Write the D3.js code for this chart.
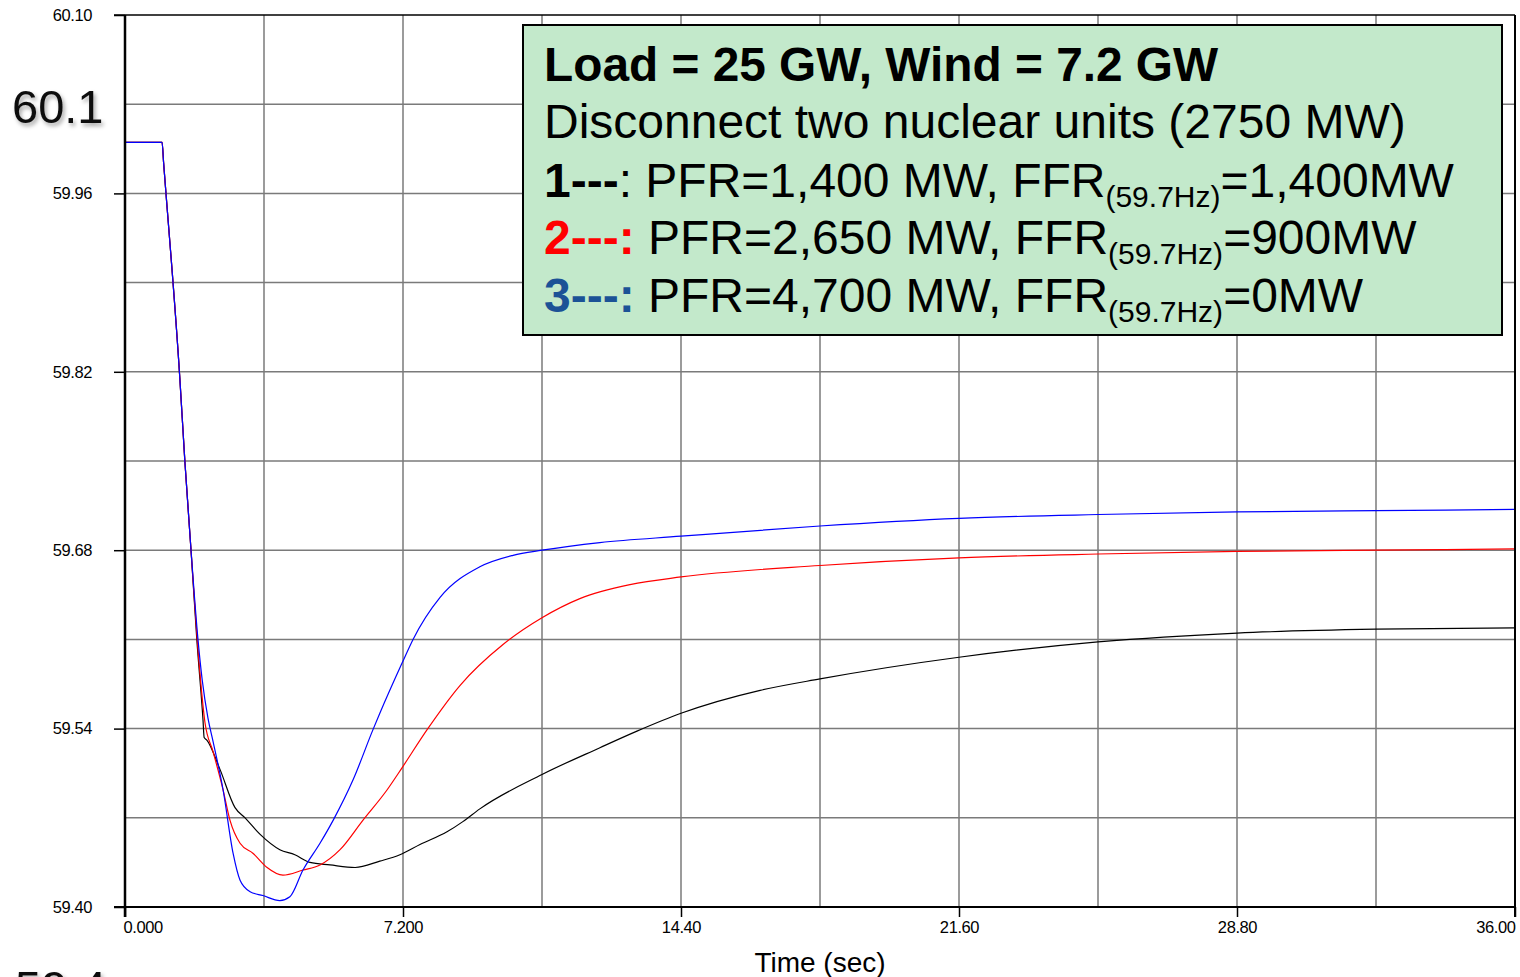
<!DOCTYPE html>
<html>
<head>
<meta charset="utf-8">
<script src="https://cdn.jsdelivr.net/npm/d3@7"></script>
<style>
  body { margin: 0; background: #fff; }
  svg { display: block; font-family: "Liberation Sans", Arial, sans-serif; }
</style>
</head>
<body>
<div id="freq-chart"></div>
<script>
// Frequency traces (time in sec, frequency in Hz)
const timeOne = [0, 0.96, 1.0, 1.42, 1.55, 1.71, 1.86, 2.02, 2.05, 2.12, 2.46, 2.85, 3.11, 3.50, 4.01, 4.40, 4.79, 5.31, 5.96, 6.60, 7.12, 7.64, 8.34, 8.75, 9.19, 10.8, 12.3, 13.26, 14.4, 16.45, 18.0, 21.6, 25.2, 28.8, 32.4, 36];
const freqOne = [60.0, 60.0, 59.984, 59.815, 59.75, 59.68, 59.61, 59.547, 59.533, 59.531, 59.508, 59.478, 59.470, 59.457, 59.445, 59.441, 59.435, 59.433, 59.431, 59.436, 59.441, 59.449, 59.459, 59.467, 59.477, 59.504, 59.525, 59.538, 59.552, 59.570, 59.579, 59.596, 59.608, 59.615, 59.618, 59.619];

const timeTwo = [0, 0.96, 1.0, 1.42, 1.55, 1.71, 1.87, 2.07, 2.28, 2.54, 2.72, 2.98, 3.32, 3.68, 4.09, 4.61, 5.05, 5.57, 6.16, 6.79, 7.17, 7.82, 8.68, 9.79, 10.8, 11.78, 13.08, 14.4, 18.0, 21.6, 25.2, 28.8, 32.4, 36];
const freqTwo = [60.0, 60.0, 59.984, 59.815, 59.75, 59.68, 59.61, 59.545, 59.522, 59.492, 59.468, 59.450, 59.442, 59.431, 59.425, 59.429, 59.433, 59.445, 59.468, 59.492, 59.509, 59.539, 59.574, 59.606, 59.627, 59.642, 59.653, 59.659, 59.668, 59.674, 59.677, 59.679, 59.680, 59.681];

const timeThree = [0, 0.96, 1.0, 1.42, 1.55, 1.71, 1.89, 2.0, 2.15, 2.28, 2.54, 2.80, 2.98, 3.24, 3.57, 4.01, 4.27, 4.61, 5.05, 5.39, 5.91, 6.42, 6.60, 7.17, 7.46, 8.16, 9.19, 10.05, 10.8, 12.3, 14.4, 18.0, 21.6, 25.2, 28.8, 32.4, 36];
const freqThree = [60.0, 60.0, 59.984, 59.815, 59.75, 59.68, 59.61, 59.578, 59.548, 59.530, 59.492, 59.442, 59.421, 59.412, 59.409, 59.405, 59.408, 59.429, 59.450, 59.468, 59.500, 59.539, 59.552, 59.591, 59.610, 59.643, 59.667, 59.676, 59.680, 59.686, 59.691, 59.699, 59.705, 59.708, 59.710, 59.711, 59.712];

const seriesColors = ['#000000', '#ff0000', '#0000ff'];

// Axis ticks and grid
const xTicks = [0, 7.2, 14.4, 21.6, 28.8, 36];
const xTickLabels = ['0.000', '7.200', '14.40', '21.60', '28.80', '36.00'];
const xGrid = [3.6, 7.2, 10.8, 14.4, 18, 21.6, 25.2, 28.8, 32.4];
const yTicks = [59.40, 59.54, 59.68, 59.82, 59.96, 60.10];
const yGrid = [59.47, 59.54, 59.61, 59.68, 59.75, 59.82, 59.89, 59.96, 60.03];

const width = 1520;
const height = 977;
const margin = {top: 15, right: 5, bottom: 70, left: 125};

const svg = d3.select('#freq-chart')
  .append('svg')
    .attr('viewBox', [0, 0, width, height])
    .attr('width', width)
    .attr('height', height);

const xScale = d3.scaleLinear()
  .domain([0, 36])
  .range([margin.left, width - margin.right]);
const yScale = d3.scaleLinear()
  .domain([59.4, 60.1])
  .range([height - margin.bottom, margin.top]);

const x0 = xScale(0), x1 = xScale(36), y0 = yScale(59.4), y1 = yScale(60.1);

// shadow for the big stray labels
const defs = svg.append('defs');
defs.append('filter')
    .attr('id', 'shadow')
    .attr('x', '-20%').attr('y', '-20%').attr('width', '150%').attr('height', '150%')
  .append('feDropShadow')
    .attr('dx', 2).attr('dy', 3)
    .attr('stdDeviation', 2)
    .attr('flood-color', '#000')
    .attr('flood-opacity', 0.35);

// clipped title at the very top
svg.append('text')
    .attr('x', 100)
    .attr('y', -3)
    .style('font-size', '17px')
    .text('Frequency (Hz)');

// gridlines
const grid = svg.append('g')
    .attr('stroke', '#7a7a7a')
    .attr('stroke-width', 1.5);
grid.selectAll('.vgrid')
  .data(xGrid)
  .join('line')
    .attr('class', 'vgrid')
    .attr('x1', d => xScale(d)).attr('x2', d => xScale(d))
    .attr('y1', y1).attr('y2', y0);
grid.selectAll('.hgrid')
  .data(yGrid)
  .join('line')
    .attr('class', 'hgrid')
    .attr('x1', x0).attr('x2', x1)
    .attr('y1', d => yScale(d)).attr('y2', d => yScale(d));

// curves
const series = [
  {time: timeOne, freq: freqOne},
  {time: timeTwo, freq: freqTwo},
  {time: timeThree, freq: freqThree}
];
const line = d3.line()
  .x(d => xScale(d[0]))
  .y(d => yScale(d[1]))
  .curve(d3.curveMonotoneX);

svg.append('g')
    .attr('fill', 'none')
    .attr('stroke-width', 1.2)
  .selectAll('path')
  .data(series)
  .join('path')
    .attr('stroke', (d, i) => seriesColors[i])
    .attr('d', d => line(d.time.map((t, i) => [t, d.freq[i]])));

// axes
const xAxis = svg.append('g')
    .attr('transform', `translate(0, ${y0})`)
    .call(d3.axisBottom(xScale)
      .tickValues(xTicks)
      .tickFormat((d, i) => xTickLabels[i])
      .tickSize(10)
      .tickSizeOuter(0)
      .tickPadding(4));
xAxis.select('.domain').remove();
xAxis.selectAll('.tick line').attr('stroke', '#000').attr('stroke-width', 1.5);
xAxis.selectAll('.tick text')
    .style('font-size', '16.5px')
    .style('letter-spacing', '-0.4px')
    .attr('fill', '#000')
    .attr('text-anchor', (d, i) => i === 0 ? 'start' : (i === xTicks.length - 1 ? 'end' : 'middle'))
    .attr('x', (d, i) => i === 0 ? -2 : 0);

const yAxis = svg.append('g')
    .attr('transform', `translate(${x0}, 0)`)
    .call(d3.axisLeft(yScale)
      .tickValues(yTicks)
      .tickFormat(d3.format('.2f'))
      .tickSize(11)
      .tickSizeOuter(0)
      .tickPadding(22));
yAxis.select('.domain').remove();
yAxis.selectAll('.tick line').attr('stroke', '#000').attr('stroke-width', 1.5);
yAxis.selectAll('.tick text')
    .style('font-size', '16.5px')
    .style('letter-spacing', '-0.4px')
    .attr('fill', '#000');

// frame
const frame = svg.append('g').attr('stroke', '#000');
frame.append('line')
    .attr('x1', x0 - 11).attr('x2', x1).attr('y1', y1).attr('y2', y1)
    .attr('stroke-width', 1.5);
frame.append('line')
    .attr('x1', x0 - 11).attr('x2', x1).attr('y1', y0).attr('y2', y0)
    .attr('stroke-width', 2);
frame.append('line')
    .attr('x1', x0).attr('x2', x0).attr('y1', y1).attr('y2', y0 + 10)
    .attr('stroke-width', 2.5);
frame.append('line')
    .attr('x1', x1).attr('x2', x1).attr('y1', y1).attr('y2', y0 + 10)
    .attr('stroke-width', 2);

// axis title
svg.append('text')
    .attr('x', xScale(18))
    .attr('y', 972)
    .attr('text-anchor', 'middle')
    .style('font-size', '28px')
    .text('Time (sec)');

// large stray labels on the left
svg.append('text')
    .attr('x', 12)
    .attr('y', 123)
    .attr('fill', '#111')
    .attr('filter', 'url(#shadow)')
    .style('font-size', '47px')
    .text('60.1');
svg.append('text')
    .attr('x', 15)
    .attr('y', 1004)
    .attr('fill', '#111')
    .attr('filter', 'url(#shadow)')
    .style('font-size', '47px')
    .text('59.4');

// annotation box
const box = svg.append('g');
box.append('rect')
    .attr('x', 523)
    .attr('y', 25)
    .attr('width', 979)
    .attr('height', 310)
    .attr('fill', '#c3e9cb')
    .attr('stroke', '#000')
    .attr('stroke-width', 2);

const textX = 544;
box.append('text')
    .attr('x', textX)
    .attr('y', 81)
    .style('font-size', '47.8px')
    .style('font-weight', 700)
    .text('Load = 25 GW, Wind = 7.2 GW');
box.append('text')
    .attr('x', textX)
    .attr('y', 138)
    .style('font-size', '48px')
    .text('Disconnect two nuclear units (2750 MW)');

const caseLabels = ['1---', '2---:', '3---:'];
const caseRest = [': PFR=1,400 MW, FFR', ' PFR=2,650 MW, FFR', ' PFR=4,700 MW, FFR'];
const caseEnd = ['=1,400MW', '=900MW', '=0MW'];
const caseColors = ['#000000', '#ff0000', '#1b5296'];
const caseY = [197, 254, 312];

caseLabels.forEach((lab, i) => {
  const t = box.append('text')
      .attr('x', textX)
      .attr('y', caseY[i])
      .style('font-size', '48px')
      .attr('xml:space', 'preserve');
  t.append('tspan')
      .style('font-weight', 700)
      .attr('fill', caseColors[i])
      .text(lab);
  t.append('tspan')
      .text(caseRest[i]);
  t.append('tspan')
      .style('font-size', '30px')
      .attr('dy', 10)
      .text('(59.7Hz)');
  t.append('tspan')
      .attr('dy', -10)
      .text(caseEnd[i]);
});
</script>
</body>
</html>
